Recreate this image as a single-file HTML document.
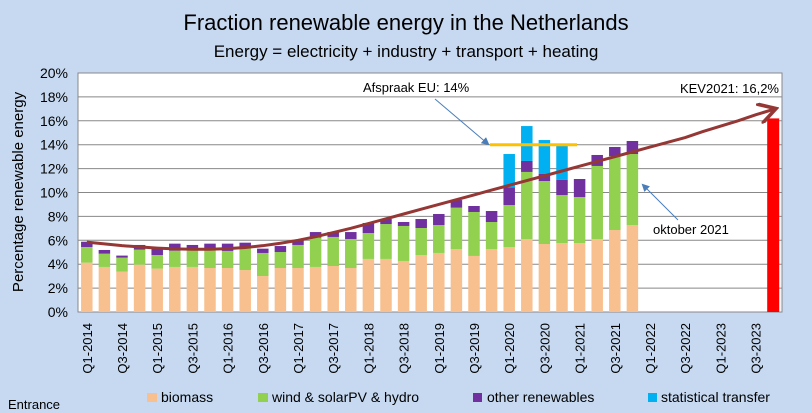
<!DOCTYPE html>
<html><head><meta charset="utf-8"><style>
body{margin:0;background:#c6d9f1;}
svg{display:block;font-family:"Liberation Sans",sans-serif;}
</style></head><body>
<svg id="c" width="812" height="413" viewBox="0 0 812 413" xmlns="http://www.w3.org/2000/svg">
<rect x="0" y="0" width="812" height="413" fill="#c6d9f1"/>
<text x="406" y="30" font-size="22" text-anchor="middle" fill="#000">Fraction renewable energy in the Netherlands</text>
<text x="406" y="57" font-size="17" text-anchor="middle" fill="#000">Energy = electricity + industry + transport + heating</text>
<rect x="78" y="73" width="704" height="239" fill="#fff" stroke="#888"/>
<g id="grid"></g><g id="yt"></g><g id="bars"></g><g id="xt"></g>
<text transform="translate(23,192) rotate(-90)" font-size="15" text-anchor="middle">Percentage renewable energy</text>
<g id="ann"></g>
<g>
<rect x="147" y="393" width="10" height="9" fill="#f9c08f"/>
<text x="161" y="402" font-size="14">biomass</text>
<rect x="258" y="393" width="10" height="9" fill="#92d050"/>
<text x="272" y="402" font-size="14">wind &amp; solarPV &amp; hydro</text>
<rect x="473" y="393" width="9" height="9" fill="#7030a0"/>
<text x="487" y="402" font-size="14">other renewables</text>
<rect x="648" y="393" width="9" height="9" fill="#00b0f0"/>
<text x="661" y="402" font-size="14">statistical transfer</text>
</g>
<text x="8" y="409" font-size="13">Entrance</text>
</svg>
<script>
const biomass=[4.13,3.77,3.38,3.96,3.63,3.77,3.77,3.68,3.68,3.51,3.01,3.68,3.68,3.77,3.85,3.68,4.44,4.44,4.27,4.77,4.94,5.27,4.69,5.27,5.44,6.11,5.69,5.77,5.77,6.11,6.86,7.28];
const windSolar=[1.31,1.11,1.17,1.26,1.14,1.36,1.42,1.54,1.43,1.82,1.93,1.34,1.93,2.45,2.43,2.43,2.17,2.92,2.93,2.26,2.34,3.46,3.68,2.26,3.51,5.61,5.27,4.02,3.85,6.11,6.19,5.94];
const other=[0.44,0.31,0.17,0.39,0.59,0.59,0.42,0.5,0.61,0.47,0.36,0.5,0.42,0.47,0.41,0.58,0.84,0.42,0.33,0.75,0.92,0.64,0.5,0.92,1.48,0.92,0.59,1.26,1.51,0.92,0.76,1.09];
const transfer=[0,0,0,0,0,0,0,0,0,0,0,0,0,0,0,0,0,0,0,0,0,0,0,0,2.79,2.92,2.84,2.84,0,0,0,0];
const kev=16.2;
const trend=[5.85,5.7,5.55,5.45,5.35,5.28,5.25,5.25,5.3,5.4,5.55,5.75,6.0,6.3,6.65,7.0,7.4,7.8,8.2,8.6,9.0,9.4,9.8,10.2,10.6,11.0,11.4,11.8,12.2,12.6,13.0,13.4,13.8,14.2,14.6,15.1,15.55,16.0,16.5,16.95];
const yTicks=[0,2,4,6,8,10,12,14,16,18,20];
const xLabels=["Q1-2014","Q3-2014","Q1-2015","Q3-2015","Q1-2016","Q3-2016","Q1-2017","Q3-2017","Q1-2018","Q3-2018","Q1-2019","Q3-2019","Q1-2020","Q3-2020","Q1-2021","Q3-2021","Q1-2022","Q3-2022","Q1-2023","Q3-2023"];
const euTarget=14;
const NS="http://www.w3.org/2000/svg";
const L=78,R=782,T=73,B=312,N=40,slot=(R-L)/N;
const y=v=>B-v*(B-T)/20;
const xc=i=>L+slot*(i+0.5);
function mk(p,tag,at){const e=document.createElementNS(NS,tag);for(const k in at)e.setAttribute(k,at[k]);document.getElementById(p).appendChild(e);return e;}
yTicks.forEach(t=>{
 const g=mk('grid','line',{x1:L,x2:R,y1:y(t),y2:y(t),stroke:'#888','stroke-width':1});
 
 
 const tx=mk('yt','text',{x:L-10,y:y(t)+5,'font-size':14,'text-anchor':'end'});
 tx.textContent=t+'%';
 
 
});
const bw=11.5;
biomass.forEach((b,i)=>{
 let base=0;
 [[b,'#f9c08f','bar-biomass'],[windSolar[i],'#92d050','bar-wind-solar'],[other[i],'#7030a0','bar-other'],[transfer[i],'#00b0f0','bar-transfer']].forEach(([v,c,n])=>{
  if(v<=0)return;
  const r=mk('bars','rect',{x:xc(i)-bw/2,y:y(base+v),width:bw,height:y(base)-y(base+v),fill:c});
  
  
  base+=v;
 });
});
const kr=mk('bars','rect',{x:xc(39)-6,y:y(kev),width:12,height:y(0)-y(kev),fill:'#ff0000'});


xLabels.forEach((s,j)=>{
 const t=mk('xt','text',{transform:`translate(${xc(j*2)+5},323) rotate(-90)`,'font-size':13,'text-anchor':'end'});
 t.textContent=s;
 
 
});
const defs=mk('ann','defs',{});
defs.innerHTML='<marker id="ab" markerWidth="8" markerHeight="8" refX="6" refY="4" orient="auto"><path d="M0,0L8,4L0,8z" fill="#4a7ebb"/></marker><marker id="ar" markerWidth="7" markerHeight="7" refX="5" refY="3.5" orient="auto"><path d="M0,0L6,3.5L0,7" fill="none" stroke="#953735" stroke-width="1.2"/></marker>';
const ol=mk('ann','line',{x1:490,x2:577,y1:y(euTarget),y2:y(euTarget),stroke:'#ffc000','stroke-width':3});


const tp=mk('ann','polyline',{points:trend.map((v,i)=>xc(i)+','+y(v)).join(' '),fill:'none',stroke:'#953735','stroke-width':3,'marker-end':'url(#ar)'});


const a1=mk('ann','line',{x1:435,y1:99,x2:488,y2:144,stroke:'#4a7ebb','stroke-width':1,'marker-end':'url(#ab)'});


const a2=mk('ann','line',{x1:678,y1:220,x2:643,y2:185,stroke:'#4a7ebb','stroke-width':1,'marker-end':'url(#ab)'});


[[363,92,'start','Afspraak EU: 14%','eu-label'],[653,234,'start','oktober 2021','oktober-label'],[779,93,'end','KEV2021: 16,2%','kev-label']].forEach(([x,yy,a,s,n])=>{
 const t=mk('ann','text',{x:x,y:yy,'font-size':13,'text-anchor':a});
 t.textContent=s;
 
 
});
</script>
</body></html>
